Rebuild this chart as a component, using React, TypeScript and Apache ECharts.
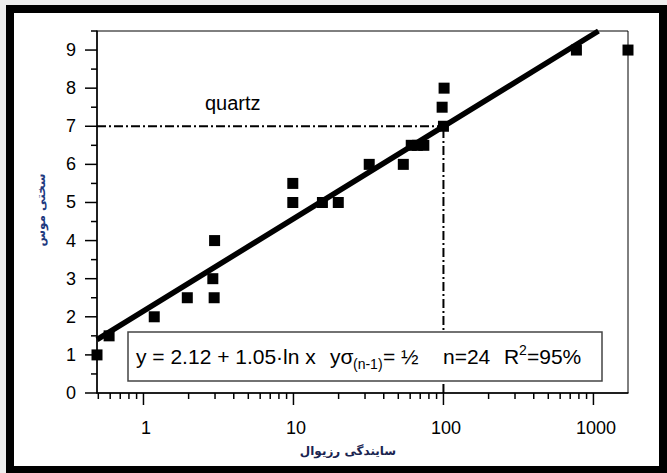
import React, { useEffect, useRef } from "react";
import * as echarts from "echarts";

// Axis ranges
const X_MIN = 0.49;
const X_MAX = 1700;
const Y_MIN = 0;
const Y_MAX = 9.5;

// Data: residual abrasiveness (x, log) vs Mohs hardness (y)
const abrasionX = [0.49, 0.59, 1.18, 1.96, 2.96, 2.9, 2.98, 9.9, 9.9, 15.6, 19.9, 32, 54, 61, 67, 74, 100, 98, 101, 770, 1700];
const hardnessY = [1, 1.5, 2, 2.5, 2.5, 3, 4, 5, 5.5, 5, 5, 6, 6, 6.5, 6.5, 6.5, 7, 7.5, 8, 9, 9];

// Regression line end points
const fitX = [0.49, 1080];
const fitY = [1.4, 9.5];

// Quartz reference
const quartzHardness = 7;
const quartzAbrasion = 100;

// Ticks
const xMajorTicks = [1, 10, 100, 1000];
const xMinorTicks = [0.5, 0.6, 0.7, 0.8, 0.9, 2, 3, 4, 5, 6, 7, 8, 9, 20, 30, 40, 50, 60, 70, 80, 90, 200, 300, 400, 500, 600, 700, 800, 900];
const yMajorTicks = [0, 1, 2, 3, 4, 5, 6, 7, 8, 9];
const yMinorTicks = [0.5, 1.5, 2.5, 3.5, 4.5, 5.5, 6.5, 7.5, 8.5, 9.5];

// Texts
const xAxisName = "سایندگی رزیوال";
const yAxisName = "سختی موس";
const quartzLabel = "quartz";
const eqMain = "y = 2.12 + 1.05·ln x";
const eqSigma = "yσ";
const eqSigmaSub = "(n-1)";
const eqSigmaVal = "= ½";
const eqN = "n=24";
const eqR = "R";
const eqRSup = "2";
const eqRVal = "=95%";

const FONT = "'Liberation Sans', Arial, Helvetica, sans-serif";
const FA_FONT = "'DejaVu Sans', sans-serif";

function tickSeries(values: number[], horizontalAxis: boolean, len: number) {
  return {
    type: "custom",
    clip: false,
    silent: true,
    z: 5,
    data: values.map((v) => (horizontalAxis ? [v, Y_MIN] : [X_MIN, v])),
    encode: { x: 0, y: 1 },
    renderItem: (_params: any, api: any) => {
      const p = api.coord([api.value(0), api.value(1)]);
      const shape = horizontalAxis
        ? { x1: p[0], y1: p[1], x2: p[0], y2: p[1] + len }
        : { x1: p[0] - len, y1: p[1], x2: p[0], y2: p[1] };
      return { type: "line", shape, style: { stroke: "#000", lineWidth: 1.5 } };
    },
  };
}

export default function App() {
  const ref = useRef<HTMLDivElement>(null);
  useEffect(() => {
    const chart = echarts.init(ref.current!, null, { renderer: "svg" });
    const points = abrasionX.map((x, i) => [x, hardnessY[i]]);
    const option: any = {
      animation: false,
      backgroundColor: "#eeeeee",
      grid: {
        left: 97,
        top: 31,
        right: 39,
        bottom: 80,
        show: true,
        borderColor: "#000",
        borderWidth: 1,
        backgroundColor: "transparent",
      },
      xAxis: {
        type: "log",
        logBase: 10,
        min: X_MIN,
        max: X_MAX,
        axisLine: { show: true, onZero: false, lineStyle: { color: "#000", width: 1.5 } },
        axisTick: { show: false },
        splitLine: { show: false },
        axisLabel: {
          showMinLabel: false,
          showMaxLabel: false,
          color: "#000",
          fontFamily: FONT,
          fontSize: 18,
          margin: 26,
          padding: [0, 0, 0, 5],
          formatter: (v: number) => {
            const l = Math.log10(v);
            return Math.abs(l - Math.round(l)) < 1e-6 ? String(Math.round(v)) : "";
          },
        },
      },
      yAxis: {
        type: "value",
        min: Y_MIN,
        max: Y_MAX,
        interval: 1,
        axisLine: { show: true, onZero: false, lineStyle: { color: "#000", width: 1.5 } },
        axisTick: { show: false },
        splitLine: { show: false },
        axisLabel: {
          showMaxLabel: false,
          color: "#000",
          fontFamily: FONT,
          fontSize: 18,
          margin: 21,
          padding: [6, 0, 0, 0],
        },
      },
      series: [
        {
          type: "line",
          data: [
            [X_MIN, quartzHardness],
            [quartzAbrasion, quartzHardness],
          ],
          symbol: "none",
          silent: true,
          z: 3,
          lineStyle: { color: "#000", width: 2, type: [9, 3, 2, 3] },
        },
        {
          type: "line",
          data: [
            [quartzAbrasion, Y_MIN],
            [quartzAbrasion, quartzHardness],
          ],
          symbol: "none",
          silent: true,
          z: 3,
          lineStyle: { color: "#000", width: 2, type: [9, 3, 2, 3] },
        },
        {
          type: "scatter",
          data: points,
          symbol: "rect",
          symbolSize: 11,
          clip: false,
          z: 4,
          itemStyle: { color: "#000", opacity: 1 },
        },
        {
          type: "line",
          data: fitX.map((x, i) => [x, fitY[i]]),
          symbol: "none",
          silent: true,
          z: 5,
          lineStyle: { color: "#000", width: 5.5 },
        },
        tickSeries(xMajorTicks, true, 12),
        tickSeries(xMinorTicks, true, 6),
        tickSeries(yMajorTicks, false, 12),
        tickSeries(yMinorTicks, false, 6),
      ],
      graphic: [
        {
          type: "rect",
          z: -100,
          silent: true,
          shape: { x: 10, y: 9, width: 653, height: 461 },
          style: { fill: "#fff", stroke: "#000", lineWidth: 8 },
        },
        {
          type: "rect",
          z: 100,
          silent: true,
          shape: { x: 128, y: 332, width: 474, height: 49 },
          style: { fill: "#fff", stroke: "#444", lineWidth: 1.5 },
        },
        { type: "text", z: 101, x: 136, y: 356, style: { text: eqMain, font: `21px ${FONT}`, fill: "#000", verticalAlign: "middle", align: "left" } },
        { type: "text", z: 101, x: 330, y: 356, style: { text: eqSigma, font: `21px ${FONT}`, fill: "#000", verticalAlign: "middle", align: "left" } },
        { type: "text", z: 101, x: 353, y: 364, style: { text: eqSigmaSub, font: `14px ${FONT}`, fill: "#000", verticalAlign: "middle", align: "left" } },
        { type: "text", z: 101, x: 383, y: 356, style: { text: eqSigmaVal, font: `21px ${FONT}`, fill: "#000", verticalAlign: "middle", align: "left" } },
        { type: "text", z: 101, x: 443, y: 356, style: { text: eqN, font: `21px ${FONT}`, fill: "#000", verticalAlign: "middle", align: "left" } },
        { type: "text", z: 101, x: 504, y: 356, style: { text: eqR, font: `21px ${FONT}`, fill: "#000", verticalAlign: "middle", align: "left" } },
        { type: "text", z: 101, x: 519, y: 350, style: { text: eqRSup, font: `14px ${FONT}`, fill: "#000", verticalAlign: "middle", align: "left" } },
        { type: "text", z: 101, x: 527, y: 356, style: { text: eqRVal, font: `21px ${FONT}`, fill: "#000", verticalAlign: "middle", align: "left" } },
        { type: "text", z: 101, x: 205, y: 103, style: { text: quartzLabel, font: `20px ${FONT}`, fill: "#000", verticalAlign: "middle", align: "left" } },
        { type: "text", z: 101, x: 348, y: 451, style: { text: xAxisName, font: `bold 12px ${FA_FONT}`, fill: "#1a2450", verticalAlign: "middle", align: "center" } },
        { type: "text", z: 101, x: 41, y: 210, rotation: Math.PI / 2, style: { text: yAxisName, font: `bold 12px ${FA_FONT}`, fill: "#1f3a80", verticalAlign: "middle", align: "center" } },
      ],
    };
    chart.setOption(option);
    return () => chart.dispose();
  }, []);
  return <div ref={ref} style={{ position: "fixed", left: 0, top: 0, width: 667, height: 473 }} />;
}
